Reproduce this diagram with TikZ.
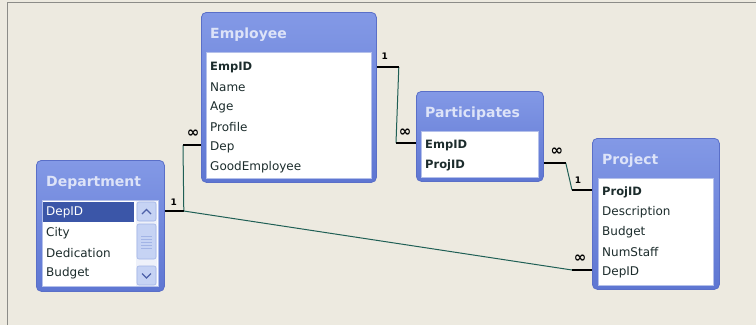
\documentclass[tikz,border=0pt]{standalone}
\usepackage{fontspec}
\setmainfont{DejaVu Sans}
\usetikzlibrary{calc}
\definecolor{bg}{HTML}{EDEAE0}
\definecolor{framegray}{HTML}{8C8C88}
\definecolor{tbltop}{HTML}{8399E6}
\definecolor{tblbot}{HTML}{5E76D2}
\definecolor{tbledge}{HTML}{5A6FC8}
\definecolor{titletext}{HTML}{DDE3F8}
\definecolor{listedge}{HTML}{B4C0EA}
\definecolor{fieldtext}{HTML}{1C2C2C}
\definecolor{linkline}{HTML}{1F5F55}
\definecolor{selblue}{HTML}{3B56A8}
\definecolor{scrolltrack}{HTML}{EEF1FA}
\definecolor{scrollbtn}{HTML}{C6D3F4}
\definecolor{scrolledge}{HTML}{A2B4E6}
\definecolor{chevron}{HTML}{4D61A9}
\begin{document}
\begin{tikzpicture}[x=1pt,y=-1pt,
  tbl/.style={draw=tbledge, line width=0.8pt, rounded corners=5pt, top color=tbltop, bottom color=tblbot, anchor=north west, inner sep=0pt},
  listbox/.style={draw=listedge, fill=white, line width=0.6pt, anchor=north west, inner sep=0pt},
  tbltitle/.style={font=\bfseries\fontsize{14}{15}\selectfont, text=titletext, anchor=west, inner sep=0pt},
  field/.style={font=\fontsize{12}{13}\selectfont, text=fieldtext, anchor=west, inner xsep=4pt, inner ysep=0pt, minimum height=18pt},
  keyfield/.style={field, font=\bfseries\fontsize{11.5}{13}\selectfont},
  thinlink/.style={draw=linkline, line width=1pt},
  thicklink/.style={draw=black, line width=2.8pt},
  onecard/.style={font=\bfseries\fontsize{9}{9}\selectfont, inner sep=0pt},
  manycard/.style={font=\bfseries\fontsize{15}{15}\selectfont, inner sep=0pt},
  sbtn/.style={fill=scrollbtn, draw=scrolledge, line width=0.6pt, rounded corners=2pt},
  chev/.style={draw=chevron, line width=1.3pt}
]
\useasboundingbox (0,0) rectangle (756,325);
\fill[bg] (0,0) rectangle (756,325);
\draw[framegray, line width=1.5pt] (7.5,325) -- (7.5,2.5) -- (756,2.5);

% ---------- Employee ----------
\node[tbl, minimum width=175pt, minimum height=170pt] (emp) at (201,12) {};
\node[listbox, minimum width=165pt, minimum height=126pt] (emplist) at (206,52) {};
\node[tbltitle] (emptitle) at (210,35) {Employee};
\node[keyfield] (emp-empid) at (206,67) {EmpID};
\node[field] (emp-name) at (206,87) {Name};
\node[field] (emp-age) at (206,107) {Age};
\node[field] (emp-profile) at (206,127) {Profile};
\node[field] (emp-dep) at (206,147) {Dep};
\node[field] (emp-good) at (206,167) {GoodEmployee};

% ---------- Participates ----------
\node[tbl, minimum width=127pt, minimum height=90pt] (par) at (416,91) {};
\node[listbox, minimum width=117pt, minimum height=46pt] (parlist) at (421,131) {};
\node[tbltitle] (partitle) at (425,114) {Participates};
\node[keyfield] (par-empid) at (421,145) {EmpID};
\node[keyfield] (par-projid) at (421,165) {ProjID};

% ---------- Project ----------
\node[tbl, minimum width=127pt, minimum height=151pt] (proj) at (592,138) {};
\node[listbox, minimum width=115pt, minimum height=107pt] (projlist) at (598,178) {};
\node[tbltitle] (projtitle) at (602,161) {Project};
\node[keyfield] (proj-projid) at (598,192) {ProjID};
\node[field] (proj-desc) at (598,212) {Description};
\node[field] (proj-budget) at (598,232) {Budget};
\node[field] (proj-num) at (598,252) {NumStaff};
\node[field] (proj-depid) at (598,272) {DepID};

% ---------- Department ----------
\node[tbl, minimum width=128pt, minimum height=131pt] (dept) at (36,160) {};
\node[listbox, minimum width=116pt, minimum height=86pt] (deptlist) at (42,200) {};
\node[tbltitle] (depttitle) at (46,183) {Department};
\fill[selblue] (43,202) rectangle (134,222);
\node[field, text=white] (dept-depid) at (42,212) {DepID};
\node[field] (dept-city) at (42,233) {City};
\node[field] (dept-ded) at (42,253) {Dedication};
\node[field] (dept-budget) at (42,273) {Budget};
% scrollbar
\fill[scrolltrack] (136,201) rectangle (157,286);
\draw[sbtn] (137,202) rectangle (156,221);
\draw[sbtn] (137,224) rectangle (156,259);
\draw[sbtn] (137,266) rectangle (156,285);
\draw[chev] (142,214) -- (146.5,209.5) -- (151,214);
\draw[chev] (142,273.5) -- (146.5,278) -- (151,273.5);
\foreach \yy in {236,239,242,245,248} \draw[scrolledge, line width=0.6pt] (141,\yy) -- (152,\yy);

% ---------- Relationships ----------
% Employee.EmpID (1) -- Participates.EmpID (inf)
\coordinate (r1a) at ($(emp-empid -| emp.east)+(22,0)$);
\coordinate (r1b) at ($(par-empid -| par.west)+(-20,-2)$);
\draw[thinlink] (r1a) -- (r1b);
\draw[thicklink] (emp-empid -| emp.east) -- (r1a);
\draw[thicklink] (r1b) -- (r1b -| par.west);
\node[onecard] (r1one) at ($(emp-empid -| emp.east)+(8,-11)$) {1};
\node[manycard] (r1many) at ($(r1b)+(9,-10)$) {∞};

% Participates.ProjID (inf) -- Project.ProjID (1)
\coordinate (r2a) at ($(par-projid -| par.east)+(22,-2)$);
\coordinate (r2b) at ($(proj-projid -| proj.west)+(-20,-2)$);
\draw[thinlink] (r2a) -- (r2b);
\draw[thicklink] (r2a -| par.east) -- (r2a);
\draw[thicklink] (r2b) -- (r2b -| proj.west);
\node[manycard] (r2many) at ($(r2a)+(-9,-11)$) {∞};
\node[onecard] (r2one) at ($(r2b)+(6,-10)$) {1};

% Department.DepID (1) -- Employee.Dep (inf)
\coordinate (r3a) at ($(dept-depid -| dept.east)+(19,-1)$);
\coordinate (r3b) at ($(emp-dep -| emp.west)+(-18,-2)$);
\draw[thinlink] (r3a) -- (r3b);
\draw[thicklink] (r3a -| dept.east) -- (r3a);
\draw[thicklink] (r3b) -- (r3b -| emp.west);
\node[onecard] (r3one) at ($(r3a)+(-10,-9)$) {1};
\node[manycard] (r3many) at ($(r3b)+(10,-11)$) {∞};

% Department.DepID (1) -- Project.DepID (inf)
\coordinate (r4b) at ($(proj-depid -| proj.west)+(-20,-2)$);
\draw[thinlink] (r3a) -- (r4b);
\draw[thicklink] (r4b) -- (r4b -| proj.west);
\node[manycard] (r4many) at ($(r4b)+(8,-11)$) {∞};
\end{tikzpicture}
\end{document}
